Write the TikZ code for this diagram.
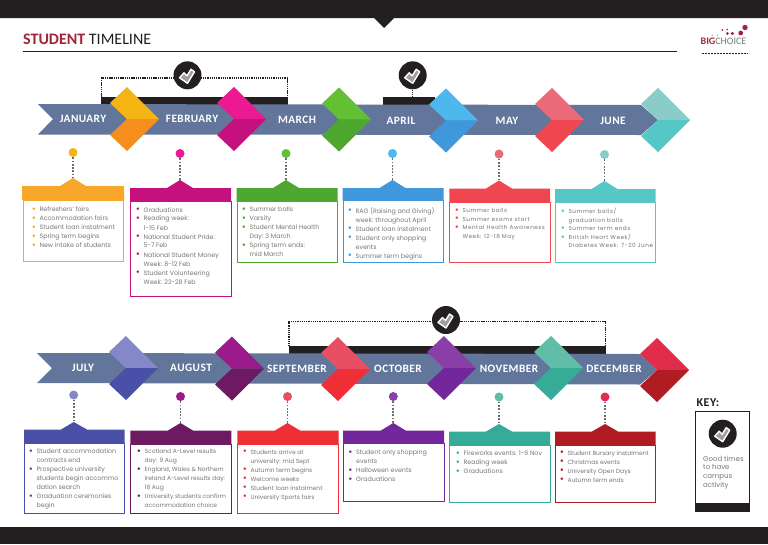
\documentclass[tikz,border=0pt]{standalone}
\usepackage{fontspec}
\setmainfont{Poppins}
\newfontfamily\headfont{Carlito}
\newfontfamily\monthfont[LetterSpace=4]{Carlito}
\newfontfamily\spreadfont[LetterSpace=9]{Poppins}
\usepackage{tikz}

\definecolor{ink}{HTML}{231F20}
\definecolor{bar}{HTML}{61769A}
\definecolor{copy}{HTML}{777777}
\definecolor{stem}{HTML}{6D6E71}
\definecolor{brand}{HTML}{A3233A}
\definecolor{janhi}{HTML}{F4B514}\definecolor{janlo}{HTML}{F68E1E}\definecolor{janbx}{HTML}{F9A72B}
\definecolor{febhi}{HTML}{EC1A92}\definecolor{feblo}{HTML}{C4117E}
\definecolor{marhi}{HTML}{63BF34}\definecolor{marlo}{HTML}{4EA72F}
\definecolor{aprhi}{HTML}{4CB8EE}\definecolor{aprlo}{HTML}{3F97DC}
\definecolor{mayhi}{HTML}{EB6A7A}\definecolor{maylo}{HTML}{EF4650}
\definecolor{junhi}{HTML}{8ACCCA}\definecolor{junlo}{HTML}{56C7C7}
\definecolor{julhi}{HTML}{8488C8}\definecolor{jullo}{HTML}{4A50A8}
\definecolor{aughi}{HTML}{9B1B8C}\definecolor{auglo}{HTML}{6D1A62}
\definecolor{sephi}{HTML}{E94F64}\definecolor{seplo}{HTML}{EF2E36}
\definecolor{octhi}{HTML}{8A3FA8}\definecolor{octlo}{HTML}{72279A}
\definecolor{novhi}{HTML}{5FBDA8}\definecolor{novlo}{HTML}{36AB98}
\definecolor{dechi}{HTML}{E12C4A}\definecolor{declo}{HTML}{B01C24}

\tikzset{
  month/.style={font=\monthfont\bfseries\fontsize{11.3}{13}\selectfont, text=white, inner sep=0pt},
  dot/.style={circle, fill=#1, minimum size=9pt, inner sep=0pt},
  stemline/.style={stem, line width=1.7pt, dash pattern=on 1.7pt off 1.6pt},
  bracket/.style={ink, line width=1.5pt, dash pattern=on 1.3pt off .9pt},
  checkdisc/.style={circle, fill=ink, minimum size=28pt, inner sep=0pt},
  tickline/.style={white, fill=gray!75, line width=1.4pt, line join=round},
  frame/.style={line width=.9pt},
  notes/.style={font=\fontsize{6.3}{9}\selectfont, text=copy, align=left, anchor=north west, inner sep=0pt},
  smallnotes/.style={notes, font=\fontsize{6}{9}\selectfont},
  tightnotes/.style={notes, font=\spreadfont\fontsize{5.7}{8.5}\selectfont},
}
\newcommand{\chevup}{(0,0) -- (-32,-32) -- (-49,-16) -- (-32,0) -- cycle}
\newcommand{\chevdown}{(0,0) -- (-32,32) -- (-49,16) -- (-32,0) -- cycle}
\newcommand{\tickmark}{(-8,2.5) -- (-3.5,-2.5) -- (-.5,.5) -- (3.5,-6) -- (7,-3.5) -- (0,8) -- cycle}
\newcommand{\itm}[1]{\makebox[6.2pt][l]{\hspace*{-1.6pt}\raisebox{-.7pt}{\fontsize{10}{8}\selectfont\textcolor{#1}{\textbullet}}}}
\newcommand{\ind}{\hspace*{6.2pt}}

\begin{document}
\begin{tikzpicture}[x=1pt,y=-1pt]
\useasboundingbox (0,0) rectangle (768,544);
\fill[white] (0,0) rectangle (768,544);

\fill[ink] (0,0) -- (768,0) -- (768,18) -- (394,18) -- (384,28) -- (374,18) -- (0,18) -- cycle;
\fill[ink] (0,527) rectangle (768,544);

\node[anchor=base west, inner sep=0pt, font=\headfont\fontsize{16}{18}\selectfont] (title) at (23,44.5) {\textcolor{brand}{\textbf{STUDENT}} \textcolor{ink}{TIMELINE}};
\draw[ink, line width=.7pt] (23,51) -- (677,51);

% first row
\fill[ink] (101,97) rectangle (288,105);
\fill[ink] (383,97) rectangle (435,105);
\node[checkdisc] (jancheck) at (187.5,75.3) {};
\node[checkdisc] (aprcheck) at (412.7,75.3) {};
\coordinate (leftfoot) at (101.5,97);
\coordinate (rightfoot) at (287.5,97);
\coordinate (leftcorner) at (101.5,78);
\coordinate (rightcorner) at (287.5,78);
\coordinate (aprfoot) at (412.7,97);
\draw[bracket] (jancheck |- leftcorner) -- (leftcorner) -- (leftfoot);
\draw[bracket] (jancheck |- rightcorner) -- (rightcorner) -- (rightfoot);
\draw[bracket] (aprcheck) -- (aprfoot);
\draw[tickline, shift={(jancheck)}] \tickmark;
\draw[tickline, shift={(aprcheck)}] \tickmark;

\fill[bar] (38,104) -- (641,105) -- (658,120) -- (641,135) -- (38,134.5) -- (53,119) -- cycle;

\fill[janhi, shift={(159,119)}] \chevup;
\fill[janlo, shift={(159,119)}] \chevdown;
\fill[febhi, shift={(266,119)}] \chevup;
\fill[feblo, shift={(266,119)}] \chevdown;
\fill[marhi, shift={(371,119.5)}] \chevup;
\fill[marlo, shift={(371,119.5)}] \chevdown;
\fill[aprhi, shift={(478,120.5)}] \chevup;
\fill[aprlo, shift={(478,120.5)}] \chevdown;
\fill[mayhi, shift={(584,120)}] \chevup;
\fill[maylo, shift={(584,120)}] \chevdown;
\fill[junhi, shift={(690,120)}] \chevup;
\fill[junlo, shift={(690,120)}] \chevdown;

\node[month] (january) at (83,119) {JANUARY};
\node[month] (february) at (192,119) {FEBRUARY};
\node[month] (march) at (297,120) {MARCH};
\node[month] (april) at (401,121) {APRIL};
\node[month] (may) at (507,121) {MAY};
\node[month] (june) at (613,121) {JUNE};

\node[dot=janhi] (jandot) at (73,152.5) {};
\node[dot=febhi] (febdot) at (180,153.5) {};
\node[dot=marhi] (mardot) at (286,153.5) {};
\node[dot=aprhi] (aprdot) at (392.5,153.5) {};
\node[dot=mayhi] (maydot) at (499,154) {};
\node[dot=junhi] (jundot) at (604.5,154.5) {};

\coordinate (janpeak) at (73,178);
\coordinate (febpeak) at (180,180);
\coordinate (marpeak) at (286,180);
\coordinate (aprpeak) at (392.5,180);
\coordinate (maypeak) at (499,180.5);
\coordinate (junpeak) at (604.5,181);
\draw[stemline] (jandot) -- (janpeak);
\draw[stemline] (febdot) -- (febpeak);
\draw[stemline] (mardot) -- (marpeak);
\draw[stemline] (aprdot) -- (aprpeak);
\draw[stemline] (maydot) -- (maypeak);
\draw[stemline] (jundot) -- (junpeak);

\fill[janbx] (22,186) -- (60,186) -- (janpeak) -- (86,186) -- (124,186) -- (124,200) -- (22,200) -- cycle;
\draw[janbx, frame] (23,200) rectangle (123.5,261.7);
\fill[feblo] (130,188) -- (167,188) -- (febpeak) -- (193,188) -- (231,188) -- (231,201) -- (130,201) -- cycle;
\draw[feblo, frame] (130.5,201) rectangle (231,296.7);
\fill[marlo] (236.5,188) -- (273,188) -- (marpeak) -- (299,188) -- (337.5,188) -- (337.5,201) -- (236.5,201) -- cycle;
\draw[marlo, frame] (237,201) rectangle (337.5,262.5);
\fill[aprlo] (342.5,188) -- (379.5,188) -- (aprpeak) -- (405.5,188) -- (443.5,188) -- (443.5,200.5) -- (342.5,200.5) -- cycle;
\draw[aprlo, frame] (343,200.5) rectangle (443.5,262.7);
\fill[maylo] (449.3,188.5) -- (486,188.5) -- (maypeak) -- (512,188.5) -- (550,188.5) -- (550,202) -- (449.3,202) -- cycle;
\draw[maylo, frame] (449.8,202) rectangle (550,262.7);
\fill[junlo] (555,189) -- (591.5,189) -- (junpeak) -- (617.5,189) -- (655.7,189) -- (655.7,202) -- (555,202) -- cycle;
\draw[junlo, frame] (555.5,202) rectangle (655.7,262.7);

\node[notes] (jannotes) at (33.2,206.3) {\itm{janbx}Refreshers' fairs\\\itm{janbx}Accommodation fairs\\\itm{janbx}Student loan instalment\\\itm{janbx}Spring term begins\\\itm{janbx}New intake of students};
\node[notes] (febnotes) at (137.2,207) {\itm{feblo}Graduations\\\itm{feblo}Reading week:\\\ind 1-15 Feb\\\itm{feblo}National Student Pride:\\\ind 5-7 Feb\\\itm{feblo}National Student Money\\\ind Week: 8-12 Feb\\\itm{feblo}Student Volunteering\\\ind Week: 22-28 Feb};
\node[notes] (marnotes) at (243.2,207) {\itm{marlo}Summer balls\\\itm{marlo}Varsity\\\itm{marlo}Student Mental Health\\\ind Day: 3 March\\\itm{marlo}Spring term ends:\\\ind mid March};
\node[notes] (aprnotes) at (349.2,207) {\itm{aprlo}RAG (Raising and Giving)\\\ind week: throughout April\\\itm{aprlo}Student loan instalment\\\itm{aprlo}Student only shopping\\\ind events\\\itm{aprlo}Summer term begins};
\node[tightnotes] (maynotes) at (456.2,208.3) {\itm{maylo}Summer balls\\\itm{maylo}Summer exams start\\\itm{maylo}Mental Health Awareness\\\ind Week: 12-18 May};
\node[tightnotes] (junnotes) at (562.2,208.3) {\itm{junlo}Summer balls/\\\ind graduation balls\\\itm{junlo}Summer term ends\\\itm{junlo}British Heart Week/\\\ind Diabetes Week: 7-20 June};

% second row
\fill[ink] (289,346) rectangle (606,354);
\node[checkdisc] (octcheck) at (446,320) {};
\coordinate (sepfoot) at (289,346);
\coordinate (decfoot) at (605.5,346);
\coordinate (sepcorner) at (289,321.7);
\coordinate (deccorner) at (605.5,321.7);
\draw[bracket] (octcheck |- sepcorner) -- (sepcorner) -- (sepfoot);
\draw[bracket] (octcheck |- deccorner) -- (deccorner) -- (decfoot);
\draw[tickline, shift={(octcheck)}] \tickmark;

\fill[bar] (37,353) -- (640,354) -- (657,370) -- (640,384.5) -- (37,383) -- (52,368) -- cycle;

\fill[julhi, shift={(158,368)}] \chevup;
\fill[jullo, shift={(158,368)}] \chevdown;
\fill[aughi, shift={(264,368.5)}] \chevup;
\fill[auglo, shift={(264,368.5)}] \chevdown;
\fill[sephi, shift={(370,369)}] \chevup;
\fill[seplo, shift={(370,369)}] \chevdown;
\fill[octhi, shift={(476,368)}] \chevup;
\fill[octlo, shift={(476,368)}] \chevdown;
\fill[novhi, shift={(583,368)}] \chevup;
\fill[novlo, shift={(583,368)}] \chevdown;
\fill[dechi, shift={(689,370)}] \chevup;
\fill[declo, shift={(689,370)}] \chevdown;

\node[month] (july) at (83,368) {JULY};
\node[month] (august) at (191,368) {AUGUST};
\node[month] (september) at (297,369) {SEPTEMBER};
\node[month] (october) at (398,369) {OCTOBER};
\node[month] (november) at (509,369) {NOVEMBER};
\node[month] (december) at (614,369) {DECEMBER};

\node[dot=julhi] (juldot) at (73.7,395) {};
\node[dot=aughi] (augdot) at (180.5,396.5) {};
\node[dot=sephi] (sepdot) at (287.5,396.5) {};
\node[dot=octhi] (octdot) at (393.3,396.5) {};
\node[dot=novhi] (novdot) at (499,397) {};
\node[dot=dechi] (decdot) at (605,397) {};

\coordinate (julpeak) at (73.7,422);
\coordinate (augpeak) at (180.5,423);
\coordinate (seppeak) at (287.5,423);
\coordinate (octpeak) at (393.3,423);
\coordinate (novpeak) at (499,424);
\coordinate (decpeak) at (605,424);
\draw[stemline] (juldot) -- (julpeak);
\draw[stemline] (augdot) -- (augpeak);
\draw[stemline] (sepdot) -- (seppeak);
\draw[stemline] (octdot) -- (octpeak);
\draw[stemline] (novdot) -- (novpeak);
\draw[stemline] (decdot) -- (decpeak);

\fill[jullo] (24,429.5) -- (61,429.5) -- (julpeak) -- (87,429.5) -- (124.5,429.5) -- (124.5,443) -- (24,443) -- cycle;
\draw[jullo, frame] (24.5,443) rectangle (124.5,513.3);
\fill[auglo] (130.3,430.5) -- (168,430.5) -- (augpeak) -- (193,430.5) -- (231.3,430.5) -- (231.3,444) -- (130.3,444) -- cycle;
\draw[auglo, frame] (130.8,444) rectangle (231.3,513.3);
\fill[seplo] (237.3,430.5) -- (275,430.5) -- (seppeak) -- (300,430.5) -- (338.5,430.5) -- (338.5,444) -- (237.3,444) -- cycle;
\draw[seplo, frame] (237.8,444) rectangle (338.5,513.3);
\fill[octlo] (343,430.7) -- (380.5,430.7) -- (octpeak) -- (406,430.7) -- (444,430.7) -- (444,443.7) -- (343,443.7) -- cycle;
\draw[octlo, frame] (343.5,443.7) rectangle (444,501.7);
\fill[novlo] (449,431.5) -- (486,431.5) -- (novpeak) -- (512,431.5) -- (550,431.5) -- (550,445) -- (449,445) -- cycle;
\draw[novlo, frame] (449.5,445) rectangle (550,502.7);
\fill[declo] (555,431.5) -- (592,431.5) -- (decpeak) -- (618,431.5) -- (655.7,431.5) -- (655.7,445) -- (555,445) -- cycle;
\draw[declo, frame] (555.5,445) rectangle (655.7,502.7);

\node[notes] (julnotes) at (30.2,448.3) {\itm{jullo}Student accommodation\\\ind contracts end\\\itm{jullo}Prospective university\\\ind students begin accommo\\\ind dation search\\\itm{jullo}Graduation ceremonies\\\ind begin};
\node[smallnotes] (augnotes) at (138.2,449.3) {\itm{auglo}Scotland A-Level results\\\ind day: 9 Aug\\\itm{auglo}England, Wales \& Northern\\\ind Ireland A-Level results day:\\\ind 18 Aug\\\itm{auglo}University students confirm\\\ind accommodation choice};
\node[smallnotes] (sepnotes) at (244.2,449.3) {\itm{seplo}Students arrive at\\\ind university: mid Sept\\\itm{seplo}Autumn term begins\\\itm{seplo}Welcome weeks\\\itm{seplo}Student loan instalment\\\itm{seplo}University Sports fairs};
\node[notes] (octnotes) at (349.8,449.3) {\itm{octlo}Student only shopping\\\ind events\\\itm{octlo}Halloween events\\\itm{octlo}Graduations};
\node[notes] (novnotes) at (457.2,450.3) {\itm{novlo}Fireworks events: 1-6 Nov\\\itm{novlo}Reading week\\\itm{novlo}Graduations};
\node[smallnotes] (decnotes) at (561.2,450.3) {\itm{declo}Student Bursary instalment\\\itm{declo}Christmas events\\\itm{declo}University Open Days\\\itm{declo}Autumn term ends};

% key
\node[anchor=base west, inner sep=0pt, font=\monthfont\bfseries\fontsize{12}{14}\selectfont, text=ink] (keytitle) at (696.5,406) {KEY:};
\draw[ink, frame] (695.8,411) rectangle (749.3,511.3);
\fill[ink] (695.5,502.7) rectangle (749.7,511.7);
\node[checkdisc] (keycheck) at (722.7,433.7) {};
\draw[tickline, shift={(keycheck)}] \tickmark;
\node[notes, font=\fontsize{7}{8.8}\selectfont] (keytext) at (703,455.6) {Good times\\to have\\campus\\activity};

% logo
\node[anchor=base west, inner sep=0pt, font=\headfont\fontsize{10}{10}\selectfont] (logotext) at (700.5,44) {\textcolor{brand}{\textbf{BIG}}\textcolor{copy}{CHOICE}};
\fill[brand] (745,27.5) circle(2.7);
\fill[brand] (740.7,33) circle(2.4);
\fill[brand] (732.3,33.5) circle(1.7);
\fill[brand] (727.3,33.5) circle(1.5);
\fill[brand] (722.3,30) circle(1);
\fill[brand] (727.3,29.5) circle(.9);
\fill[brand] (717.7,35) circle(.5);
\fill[brand] (712,35.5) circle(.5);
\draw[ink, line width=1.4pt, dash pattern=on 2.2pt off .8pt] (702,53.5) -- (748,53.5);
\end{tikzpicture}
\end{document}
